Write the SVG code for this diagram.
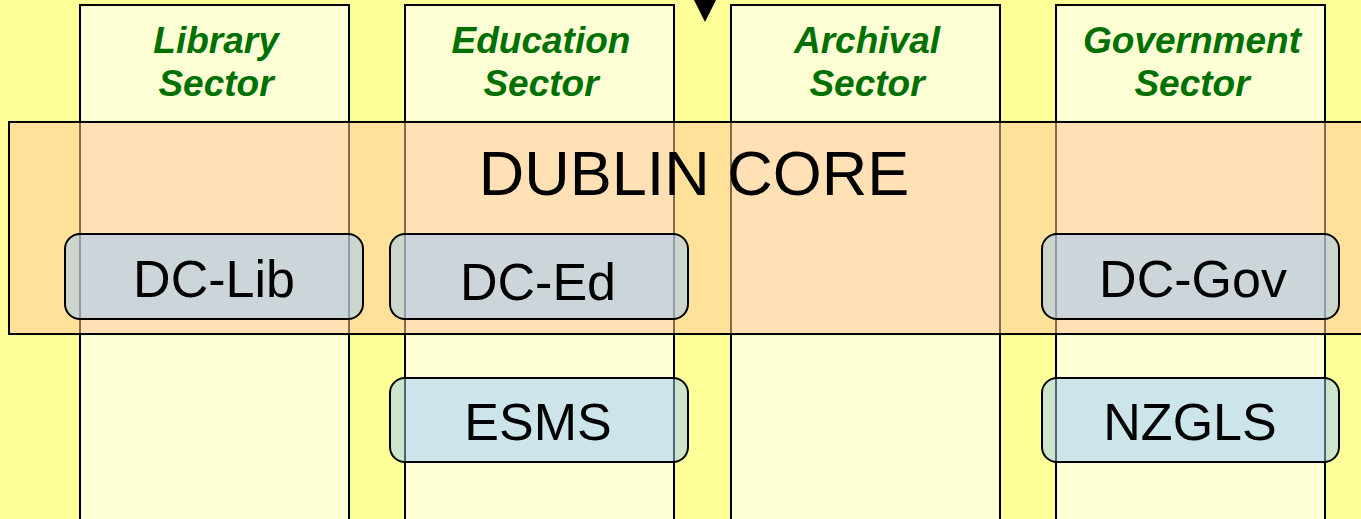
<svg xmlns="http://www.w3.org/2000/svg" width="1361" height="519" viewBox="0 0 1361 519">
<style>
.col{fill:#FFFFD5;stroke:#000;stroke-width:2}
.band{fill:rgba(255,198,153,0.53);stroke:#000;stroke-width:2}
.box{fill:rgba(153,204,255,0.5);stroke:#000;stroke-width:2}
.hdr{font-family:"Liberation Sans",Arial,sans-serif;font-weight:bold;font-style:italic;font-size:37px;fill:#007000;text-anchor:middle}
.lbl{font-family:"Liberation Sans",Arial,sans-serif;font-size:52px;fill:#000;text-anchor:middle}
.big{font-family:"Liberation Sans",Arial,sans-serif;font-size:63px;fill:#000;text-anchor:middle}
</style>
<rect x="0" y="0" width="1361" height="519" fill="#FFFF99"/>
<g id="library-sector">
<rect class="col" x="80" y="5" width="269" height="530"/>
<text class="hdr" x="216" y="53">Library</text>
<text class="hdr" x="216" y="96">Sector</text>
</g>
<g id="education-sector">
<rect class="col" x="405" y="5" width="269" height="530"/>
<text class="hdr" x="541" y="53">Education</text>
<text class="hdr" x="541" y="96">Sector</text>
</g>
<g id="archival-sector">
<rect class="col" x="731" y="5" width="269" height="530"/>
<text class="hdr" x="867" y="53">Archival</text>
<text class="hdr" x="867" y="96">Sector</text>
</g>
<g id="government-sector">
<rect class="col" x="1056" y="5" width="269" height="530"/>
<text class="hdr" x="1192" y="53">Government</text>
<text class="hdr" x="1192" y="96">Sector</text>
</g>
<g id="connectors">
<polygon points="694,0 716,0 705,22" fill="#000"/>
</g>
<g id="dublin-core">
<rect class="band" x="9" y="122" width="1362" height="212"/>
<text class="big" x="694" y="195">DUBLIN CORE</text>
</g>
<g id="dc-lib">
<rect class="box" x="65" y="234" width="298" height="85" rx="15"/>
<text class="lbl" x="214" y="297">DC-Lib</text>
</g>
<g id="dc-ed">
<rect class="box" x="390" y="234" width="298" height="85" rx="15"/>
<text class="lbl" x="538" y="300">DC-Ed</text>
</g>
<g id="dc-gov">
<rect class="box" x="1042" y="234" width="297" height="85" rx="15"/>
<text class="lbl" x="1193" y="297">DC-Gov</text>
</g>
<g id="esms">
<rect class="box" x="390" y="378" width="298" height="84" rx="15"/>
<text class="lbl" x="538" y="440">ESMS</text>
</g>
<g id="nzgls">
<rect class="box" x="1042" y="378" width="297" height="84" rx="15"/>
<text class="lbl" x="1190" y="440">NZGLS</text>
</g>
</svg>
